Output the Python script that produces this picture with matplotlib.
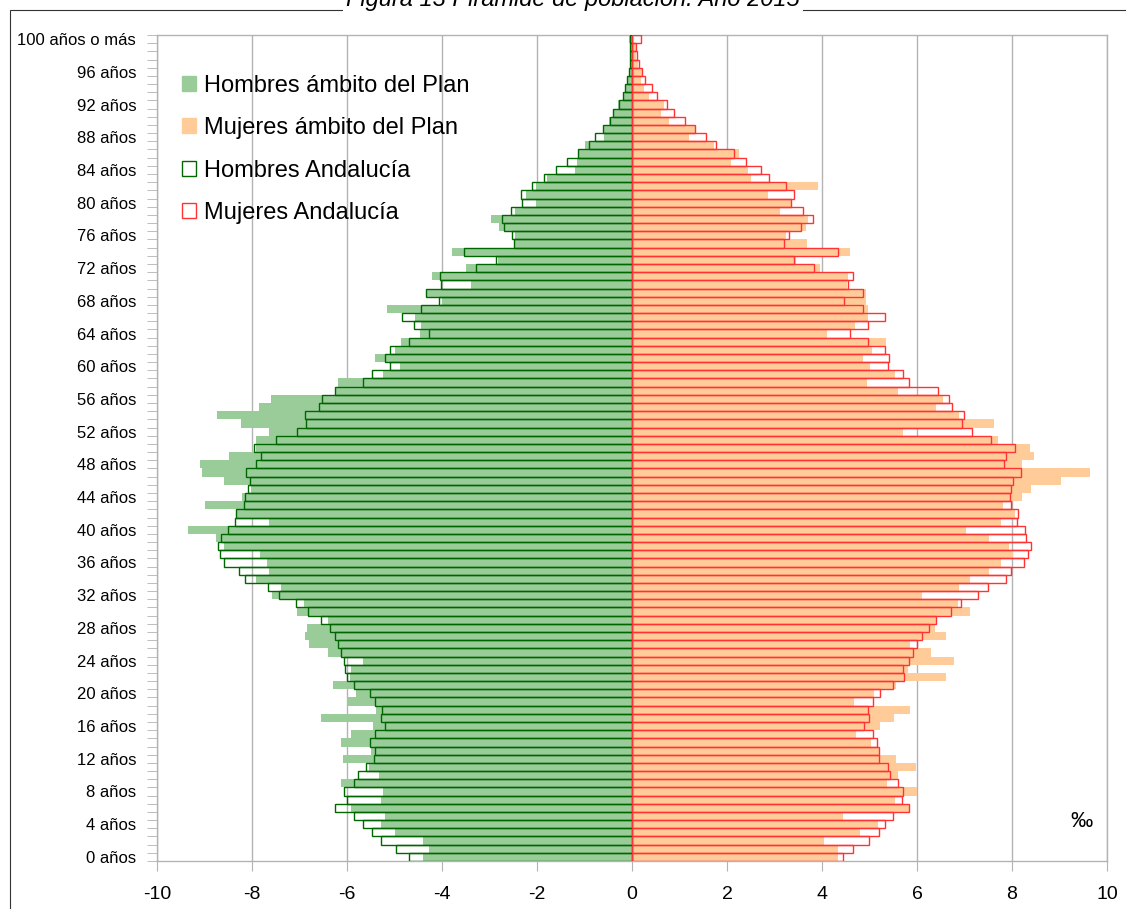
import numpy as np
import matplotlib
matplotlib.use("Agg")
import matplotlib.pyplot as plt
from matplotlib.patches import Patch, Rectangle

plt.rcParams['font.family'] = ['Liberation Sans', 'DejaVu Sans']

# ages 0..100 (100 = "100 años o más"), values in per mil
edades = np.arange(0, 101)

# Hombres ámbito del Plan (shown on the negative side)
hombres_plan = [4.41, 4.28, 4.41, 5.00, 5.29, 5.21, 5.92, 5.29, 5.25, 6.13,
                5.33, 5.54, 6.09, 5.50, 6.13, 5.92, 5.46, 6.55, 5.38, 6.01,
                5.82, 6.30, 5.93, 5.92, 5.67, 6.39, 6.81, 6.89, 6.85, 6.41,
                7.06, 6.91, 7.58, 7.39, 7.92, 7.65, 7.69, 7.84, 8.58, 8.76,
                9.35, 7.65, 8.31, 8.98, 8.21, 8.03, 8.60, 9.05, 9.10, 8.49,
                7.91, 7.92, 7.65, 8.24, 8.74, 7.86, 7.59, 6.25, 6.18, 5.25,
                4.89, 5.42, 5.00, 4.87, 4.47, 4.45, 4.56, 5.16, 4.01, 4.32,
                3.40, 4.22, 3.50, 2.82, 3.80, 2.48, 2.47, 2.81, 2.97, 2.47,
                2.03, 2.24, 2.03, 1.78, 1.20, 1.16, 1.14, 0.99, 0.58, 0.58,
                0.48, 0.40, 0.29, 0.20, 0.14, 0.10, 0.07, 0.05, 0.05, 0.04,
                0.07]

# Mujeres ámbito del Plan
mujeres_plan = [4.33, 4.33, 4.04, 4.80, 5.18, 4.44, 5.86, 5.54, 6.01, 5.37,
                5.60, 5.97, 5.55, 5.19, 5.04, 4.71, 5.22, 5.51, 5.85, 4.68,
                5.10, 5.55, 6.62, 5.81, 6.77, 6.29, 5.85, 6.61, 6.37, 6.43,
                7.11, 6.86, 6.10, 6.88, 7.11, 7.51, 7.77, 8.02, 7.93, 7.51,
                7.03, 7.76, 8.06, 7.81, 8.22, 8.39, 9.04, 9.65, 8.20, 8.47,
                8.37, 7.70, 5.71, 7.63, 6.88, 6.40, 6.55, 5.60, 4.95, 5.54,
                5.01, 4.87, 5.06, 5.35, 4.11, 4.70, 4.97, 4.97, 4.92, 4.92,
                4.52, 4.55, 3.96, 3.45, 4.59, 3.69, 3.25, 3.67, 3.71, 3.12,
                3.37, 2.87, 3.92, 2.51, 2.45, 2.09, 2.26, 1.72, 1.19, 1.33,
                0.77, 0.62, 0.67, 0.35, 0.25, 0.18, 0.21, 0.13, 0.09, 0.08,
                0.03]

# Hombres Andalucía
hombres_and = [4.69, 4.96, 5.28, 5.47, 5.66, 5.85, 6.25, 6.01, 6.06, 5.85,
               5.76, 5.60, 5.43, 5.42, 5.52, 5.41, 5.21, 5.28, 5.27, 5.41,
               5.52, 5.85, 5.99, 6.04, 6.07, 6.12, 6.18, 6.25, 6.36, 6.55,
               6.82, 7.07, 7.44, 7.67, 8.15, 8.27, 8.60, 8.67, 8.72, 8.65,
               8.50, 8.36, 8.33, 8.16, 8.15, 8.08, 8.04, 8.12, 7.91, 7.82,
               7.96, 7.50, 7.06, 6.86, 6.88, 6.59, 6.53, 6.25, 5.66, 5.47,
               5.09, 5.19, 5.09, 4.70, 4.27, 4.59, 4.84, 4.44, 4.06, 4.34,
               4.02, 4.04, 3.28, 2.86, 3.54, 2.48, 2.52, 2.69, 2.74, 2.55,
               2.32, 2.33, 2.11, 1.85, 1.61, 1.36, 1.14, 0.91, 0.77, 0.62,
               0.47, 0.39, 0.27, 0.20, 0.15, 0.10, 0.07, 0.05, 0.05, 0.04,
               0.04]

# Mujeres Andalucía
mujeres_and = [4.44, 4.66, 4.98, 5.19, 5.33, 5.50, 5.83, 5.69, 5.71, 5.60,
               5.44, 5.38, 5.19, 5.20, 5.15, 5.07, 4.89, 4.99, 4.97, 5.08,
               5.22, 5.49, 5.73, 5.70, 5.84, 5.92, 5.99, 6.11, 6.26, 6.41,
               6.71, 6.93, 7.28, 7.50, 7.88, 7.97, 8.25, 8.34, 8.40, 8.30,
               8.28, 8.10, 8.12, 7.98, 7.96, 7.97, 8.03, 8.18, 7.84, 7.88,
               8.06, 7.55, 7.15, 6.95, 6.99, 6.73, 6.68, 6.45, 5.84, 5.71,
               5.38, 5.40, 5.32, 4.97, 4.58, 4.97, 5.32, 4.87, 4.47, 4.87,
               4.54, 4.65, 3.84, 3.41, 4.33, 3.21, 3.30, 3.55, 3.81, 3.61,
               3.34, 3.40, 3.24, 2.88, 2.72, 2.39, 2.14, 1.76, 1.56, 1.32,
               1.12, 0.88, 0.74, 0.53, 0.42, 0.28, 0.22, 0.15, 0.11, 0.09,
               0.19]

# tick labels every 4 years
etiquetas_pos = list(range(0, 100, 4)) + [100]
etiquetas = [f"{e} años" for e in range(0, 100, 4)] + ["100 años o más"]

verde_claro = '#99cc99'
naranja = '#ffcc99'
verde_osc = '#006600'
rojo = '#ff3333'

fig = plt.figure(figsize=(11.26, 9.09), dpi=100)
ax = fig.add_axes([157/1126, 1 - 861/909, 950/1126, 826/909])

# filled bars (ámbito del Plan)
ax.barh(edades, -np.array(hombres_plan), height=1.0, color=verde_claro, linewidth=0, zorder=2)
ax.barh(edades, mujeres_plan, height=1.0, color=naranja, linewidth=0, zorder=2)

# outlined bars (Andalucía)
ax.barh(edades, -np.array(hombres_and), height=1.0, facecolor='none',
        edgecolor=verde_osc, linewidth=1.0, zorder=3)
ax.barh(edades, mujeres_and, height=1.0, facecolor='none',
        edgecolor=rojo, linewidth=1.0, zorder=3)

ax.set_xlim(-10, 10)
ax.set_ylim(-0.5, 100.5)
ax.set_xticks(np.arange(-10, 11, 2))
ax.set_xticklabels([str(v) for v in range(-10, 11, 2)], fontsize=14)
ax.set_yticks(etiquetas_pos)
ax.set_yticklabels(etiquetas, fontsize=12)
ax.set_yticks(np.arange(-0.5, 101, 1), minor=True)
ax.tick_params(axis='y', which='major', length=0, pad=15)
ax.tick_params(axis='y', which='minor', length=7, color='#b3b3b3')
ax.tick_params(axis='x', length=7, color='#b3b3b3', pad=11)

ax.grid(axis='x', color='#b3b3b3', linewidth=1.0, zorder=0)
ax.set_axisbelow(True)
for s in ax.spines.values():
    s.set_color('#b3b3b3')
    s.set_linewidth(1.0)

ax.text(0.985, 0.035, '‰', transform=ax.transAxes, fontsize=16, ha='right', va='bottom')

handles = [Patch(facecolor=verde_claro, edgecolor=verde_claro),
           Patch(facecolor=naranja, edgecolor=naranja),
           Patch(facecolor='white', edgecolor=verde_osc),
           Patch(facecolor='white', edgecolor=rojo)]
labels = ['Hombres ámbito del Plan', 'Mujeres ámbito del Plan',
          'Hombres Andalucía', 'Mujeres Andalucía']
ax.legend(handles, labels, loc='upper left', bbox_to_anchor=(182/1126, 1 - 75/909),
          bbox_transform=fig.transFigure, frameon=False, fontsize=17,
          handlelength=0.6, handleheight=0.6, handletextpad=0.35,
          labelspacing=0.86, borderpad=0, borderaxespad=0)

# outer chart frame and the title (cut at the top like the original)
fig.patches.append(Rectangle((10/1126, -0.1), 1.2, 1.1 - 10/909, transform=fig.transFigure,
                             fill=False, edgecolor='#333333', linewidth=0.8))
fig.text(573/1126, 1 - 6/909, 'Figura 13 Pirámide de población. Año 2015', ha='center',
         va='baseline', fontsize=17, style='italic',
         bbox=dict(facecolor='white', edgecolor='none', pad=2))

fig.savefig('out.png', dpi=100)
